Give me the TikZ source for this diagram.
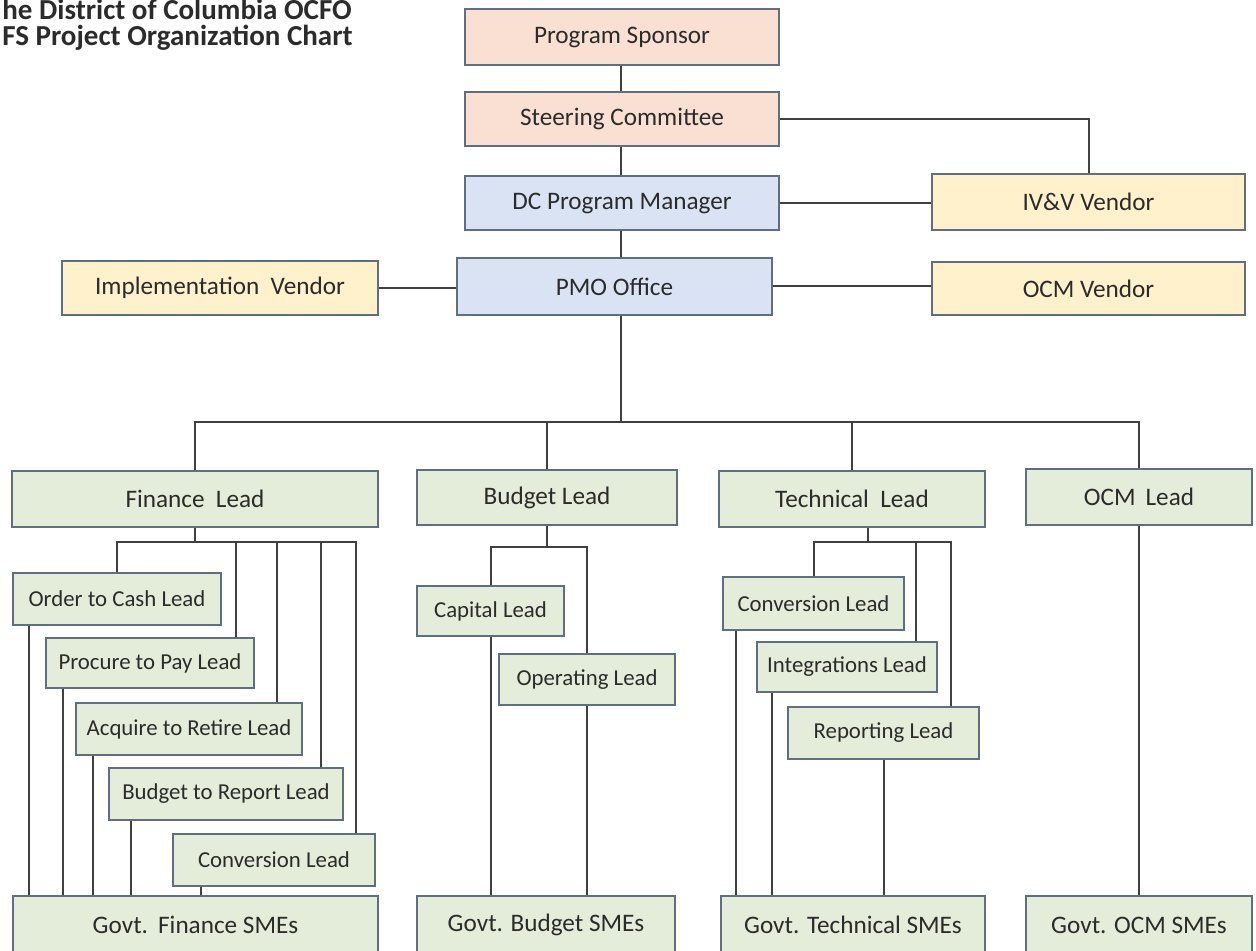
\documentclass[tikz,border=0pt]{standalone}
\usepackage{fontspec}
\setmainfont{Carlito}
\definecolor{pinkc}{HTML}{FAE0D2}
\definecolor{bluec}{HTML}{DAE3F3}
\definecolor{yelc}{HTML}{FFF1CC}
\definecolor{grnc}{HTML}{E3EDD9}
\definecolor{bordc}{HTML}{5F6E80}
\definecolor{linec}{HTML}{404040}
\definecolor{txtc}{HTML}{2B2B2B}
\tikzset{
  box/.style={draw=bordc, line width=1pt, inner sep=0pt, text=txtc, font=\fontsize{12.6}{15}\selectfont},
  pinkbox/.style={box, fill=pinkc},
  bluebox/.style={box, fill=bluec},
  yelbox/.style={box, fill=yelc},
  grnbox/.style={box, fill=grnc},
  subbox/.style={grnbox, font=\fontsize{11.4}{13}\selectfont},
  conn/.style={draw=linec, line width=1pt},
  titletext/.style={anchor=base west, inner sep=0pt, text=txtc, font=\bfseries\fontsize{14.5}{18}\selectfont}
}
\begin{document}
\begin{tikzpicture}[x=0.5pt,y=-0.5pt]
\useasboundingbox (0,0) rectangle (1256,951);
\clip (0,0) rectangle (1256,951);
% title
\node[titletext] (t1) at (2,20) {he District of Columbia OCFO};
\node[titletext] (t2) at (2,46) {FS Project Organization Chart};
% top boxes
\node[pinkbox, minimum width=157pt, minimum height=28pt] (ps) at (622,37) {Program Sponsor};
\node[pinkbox, minimum width=157pt, minimum height=27pt] (sc) at (622,119.5) {Steering Committee};
\node[bluebox, minimum width=157pt, minimum height=27pt] (dcpm) at (622,203) {DC Program Manager};
\node[bluebox, minimum width=157.5pt, minimum height=28.5pt] (pmo) at (614.5,286.5) {PMO Office};
\node[yelbox, minimum width=158pt, minimum height=27pt] (iv) at (220,288) {Implementation\hspace{0.45em}Vendor};
\node[yelbox, minimum width=156.5pt, minimum height=28pt] (ivv) at (1088.5,202) {IV\&V Vendor};
\node[yelbox, minimum width=156.5pt, minimum height=26.5pt] (ocmv) at (1088.5,288.5) {OCM Vendor};
% leads
\node[grnbox, minimum width=183pt, minimum height=28pt] (fl) at (195,499) {Finance\hspace{0.45em}Lead};
\node[grnbox, minimum width=130pt, minimum height=27.5pt] (bl) at (547,497.5) {Budget Lead};
\node[grnbox, minimum width=133pt, minimum height=28pt] (tl) at (852,499) {Technical\hspace{0.45em}Lead};
\node[grnbox, minimum width=113pt, minimum height=28pt] (ol) at (1139,497) {OCM\hspace{0.4em}Lead};
% SMEs
\node[grnbox, minimum width=182.5pt, minimum height=29pt] (gf) at (195.5,925) {Govt.\hspace{0.4em}Finance SMEs};
\node[grnbox, minimum width=129pt, minimum height=29pt] (gb) at (546,925) {Govt. Budget SMEs};
\node[grnbox, minimum width=132pt, minimum height=29pt] (gt) at (853,925) {Govt. Technical SMEs};
\node[grnbox, minimum width=113pt, minimum height=29pt] (go) at (1139,925) {Govt. OCM SMEs};
% finance subs
\node[subbox, minimum width=104pt, minimum height=26pt] (o2c) at (117,599) {Order to Cash Lead};
\node[subbox, minimum width=104pt, minimum height=25pt] (p2p) at (150,663) {Procure to Pay Lead};
\node[subbox, minimum width=113pt, minimum height=26pt] (a2r) at (189,729) {Acquire to Retire Lead};
\node[subbox, minimum width=117pt, minimum height=26pt] (b2r) at (226,794) {Budget to Report Lead};
\node[subbox, minimum width=101pt, minimum height=26pt] (fconv) at (274,860) {Conversion Lead};
% budget subs
\node[subbox, minimum width=73.5pt, minimum height=25pt] (cap) at (490.5,611) {Capital Lead};
\node[subbox, minimum width=88pt, minimum height=25.5pt] (opl) at (587,679.5) {Operating Lead};
% technical subs
\node[subbox, minimum width=90.5pt, minimum height=26.5pt] (tconv) at (813.5,603.5) {Conversion Lead};
\node[subbox, minimum width=90pt, minimum height=25pt] (integ) at (847,667) {Integrations Lead};
\node[subbox, minimum width=95.5pt, minimum height=26pt] (rep) at (883.5,733) {Reporting Lead};
% helper coordinates
\coordinate (xc) at (621,0);
\coordinate (tb) at (0,422);
\coordinate (fy) at (0,542);
\coordinate (fx2) at (236,0);
\coordinate (fx3) at (277,0);
\coordinate (fx4) at (321,0);
\coordinate (fx5) at (356,0);
\coordinate (gx1) at (29,0);
\coordinate (gx2) at (63,0);
\coordinate (gx3) at (93,0);
\coordinate (gx4) at (131,0);
\coordinate (gx5) at (201,0);
\coordinate (by) at (0,547);
\coordinate (ty) at (0,542);
\coordinate (tx0) at (868,0);
\coordinate (tx2) at (916,0);
\coordinate (tx3) at (951,0);
\coordinate (hx1) at (736,0);
\coordinate (hx2) at (772,0);
% top connectors
\draw[conn] (xc |- ps.south) -- (xc |- sc.north);
\draw[conn] (xc |- sc.south) -- (xc |- dcpm.north);
\draw[conn] (xc |- dcpm.south) -- (xc |- pmo.north);
\draw[conn] (sc.east) -| (ivv.north);
\draw[conn] (dcpm.east) -- (dcpm.east -| ivv.west);
\draw[conn] (iv.east) -- (iv.east -| pmo.west);
\draw[conn] (pmo.east) -- (pmo.east -| ocmv.west);
% main bus
\draw[conn] (xc |- pmo.south) -- (xc |- tb);
\draw[conn] (fl.north) -- (fl.north |- tb) -- (ol.north |- tb) -- (ol.north);
\draw[conn] (bl.north |- tb) -- (bl.north);
\draw[conn] (tl.north |- tb) -- (tl.north);
% finance
\draw[conn] (fl.south) -- (fl.south |- fy);
\draw[conn] (o2c.north) -- (o2c.north |- fy) -- (fx5 |- fy) -- (fx5 |- fconv.north);
\draw[conn] (fx2 |- fy) -- (fx2 |- p2p.north);
\draw[conn] (fx3 |- fy) -- (fx3 |- a2r.north);
\draw[conn] (fx4 |- fy) -- (fx4 |- b2r.north);
\draw[conn] (gx1 |- o2c.south) -- (gx1 |- gf.north);
\draw[conn] (gx2 |- p2p.south) -- (gx2 |- gf.north);
\draw[conn] (gx3 |- a2r.south) -- (gx3 |- gf.north);
\draw[conn] (gx4 |- b2r.south) -- (gx4 |- gf.north);
\draw[conn] (gx5 |- fconv.south) -- (gx5 |- gf.north);
% budget
\draw[conn] (bl.south) -- (bl.south |- by);
\draw[conn] (cap.north) -- (cap.north |- by) -- (opl.north |- by) -- (opl.north);
\draw[conn] (cap.south) -- (cap.south |- gb.north);
\draw[conn] (opl.south) -- (opl.south |- gb.north);
% technical
\draw[conn] (tx0 |- tl.south) -- (tx0 |- ty);
\draw[conn] (tconv.north) -- (tconv.north |- ty) -- (tx3 |- ty) -- (tx3 |- rep.north);
\draw[conn] (tx2 |- ty) -- (tx2 |- integ.north);
\draw[conn] (hx1 |- tconv.south) -- (hx1 |- gt.north);
\draw[conn] (hx2 |- integ.south) -- (hx2 |- gt.north);
\draw[conn] (rep.south) -- (rep.south |- gt.north);
% ocm
\draw[conn] (ol.south) -- (go.north);
\end{tikzpicture}
\end{document}
